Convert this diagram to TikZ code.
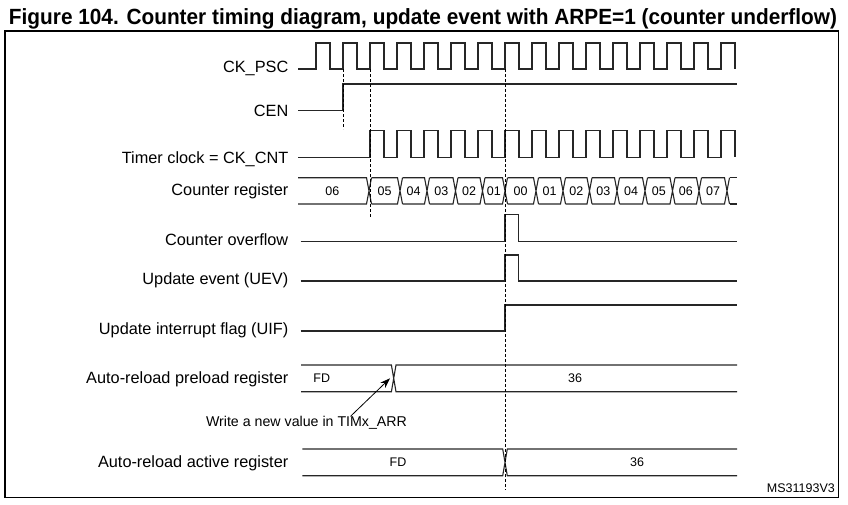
\documentclass[tikz,border=0pt]{standalone}
\usepackage{fontspec}
\setmainfont{Liberation Sans}
\usetikzlibrary{arrows.meta}

\begin{document}
\begin{tikzpicture}[x=1pt, y=-1pt, >={Stealth[length=10pt, width=7pt]},
  sig/.style={line width=1.1pt, black!85},
  mark line/.style={line width=0.8pt, dash pattern=on 3pt off 2pt},
  lbl/.style={anchor=base east, inner sep=0pt, font=\fontsize{16.3}{18}\selectfont},
  val/.style={anchor=base, inner sep=0pt, font=\fontsize{12.5}{14}\selectfont}]
  \useasboundingbox (0,0) rectangle (848,504);
  \node[anchor=base, inner sep=0pt] (title) at (423,24.5) {\resizebox{828pt}{\height}{\fontsize{22}{24}\selectfont\bfseries Figure 104. Counter timing diagram, update event with ARPE=1 (counter underflow)}};
  \draw[line width=1.2pt] (5,31) rectangle (838.5,497.5);

  \node[lbl] (ckpsc) at (288.5,72.5) {CK\_PSC};
  \node[lbl] (cen) at (288.5,116.5) {CEN};
  \node[lbl] (ckcnt) at (288.5,163.1) {Timer clock = CK\_CNT};
  \node[lbl] (cntreg) at (288.5,195.8) {Counter register};
  \node[lbl] (ovf) at (288.5,245.8) {Counter overflow};
  \node[lbl] (uev) at (288.5,284.3) {Update event (UEV)};
  \node[lbl] (uif) at (288.5,334.8) {Update interrupt flag (UIF)};
  \node[lbl] (arrpre) at (288.5,383) {Auto-reload preload register};
  \node[lbl] (arract) at (288.5,467.5) {Auto-reload active register};
  \node[anchor=base, inner sep=0pt, font=\fontsize{14.2}{16}\selectfont] (wrnote) at (306.5,426.8) {Write a new value in TIMx\_ARR};
  \node[val, anchor=base east] (docid) at (835,492.6) {MS31193V3};

  \draw[sig] (298,69) \foreach \k in {0,...,15}{ -- ({316+\k*27},69) -- ++(0,-26) -- ++(14,0) -- ++(0,26)};
  \draw[sig] (298,110.7) -- (343,110.7) -- (343,84) -- (737,84);
  \draw[sig] (298,157.3) \foreach \k in {2,...,15}{ -- ({316+\k*27},157.3) -- ++(0,-26.6) -- ++(14,0) -- ++(0,26.6)};

  \foreach \a/\b/\v [count=\i] in {295.5/369/06, 369/400/05, 400/427/04, 427/455.5/03, 455.5/482.5/02, 482.5/505/01, 505/536/00, 536/563/01, 563/589.5/02, 589.5/617/03, 617/645/04, 645/672.5/05, 672.5/699/06, 699/727/07}{
    \draw[sig] (\a+2.5,177.7) -- (\b-2.5,177.7) -- (\b+2.5,204) (\a+2.5,204) -- (\b-2.5,204) -- (\b+2.5,177.7);
    \node[val] (cnt\i) at ({(\a+\b)/2},195.5) {\v};
  }
  \draw[sig] (729.5,177.7) -- (737,177.7) (729.5,204) -- (737,204);

  \draw[sig] (300.7,241.7) -- (505,241.7) -- (505,214.3) -- (518.3,214.3) -- (518.3,241.7) -- (737,241.7);
  \draw[sig] (300.7,281) -- (505,281) -- (505,255) -- (518.3,255) -- (518.3,281) -- (737,281);
  \draw[sig] (300.7,331) -- (505,331) -- (505,305) -- (737,305);

  \draw[sig] (301,365) -- (391.4,365) -- (396,391.7) -- (737,391.7) (301,391.7) -- (391.4,391.7) -- (396,365) -- (737,365);
  \node[val] (prefd) at (321.7,382.5) {FD};
  \node[val] (pre36) at (575,382.5) {36};
  \draw[sig] (302.3,449) -- (502.7,449) -- (507.3,475.7) -- (737,475.7) (302.3,475.7) -- (502.7,475.7) -- (507.3,449) -- (737,449);
  \node[val] (actfd) at (398,466.5) {FD};
  \node[val] (act36) at (637,466.5) {36};

  \coordinate (arrtip) at (390,378.3);
  \draw[->, line width=0.8pt] ([xshift=44pt]wrnote.north) -- (arrtip);

  \draw[mark line] (343,69) -- (343,129);
  \draw[mark line] (370,69) -- (370,218);
  \draw[mark line] (505,69) -- (505,490);
\end{tikzpicture}
\end{document}
